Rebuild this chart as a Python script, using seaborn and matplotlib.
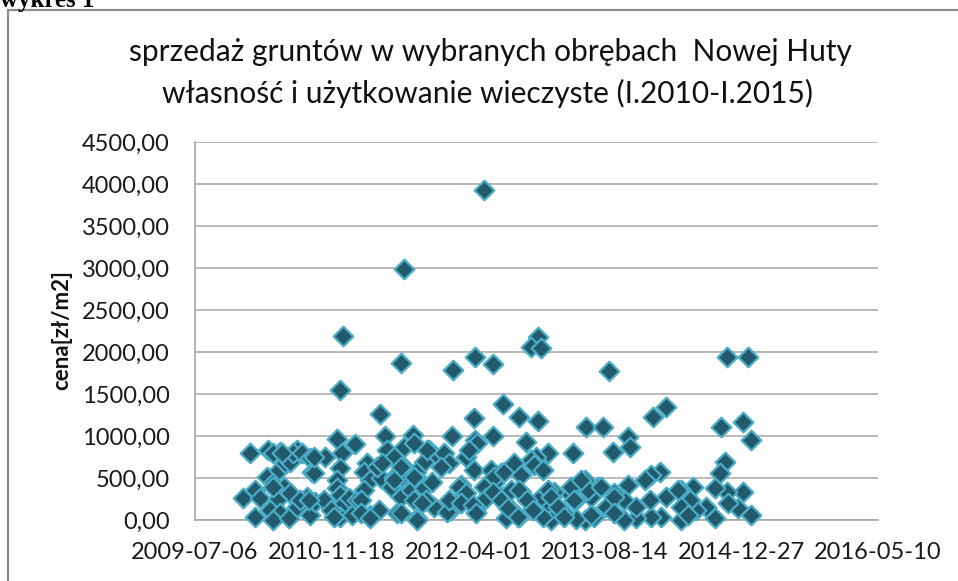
import pandas as pd
import seaborn as sns
import matplotlib.pyplot as plt
import matplotlib.lines as mlines

# dni w formacie Excela (seryjne) i cena [zł/m2]
dni = [
    41057, 40765, 40542, 40532, 40755, 40945, 41024, 41091, 40677, 40697,
    41022, 41126, 40518, 40584, 40799, 40942, 41091, 41254, 41230, 41266,
    41514, 41946, 42025, 41187, 41254, 41432, 41493, 41677, 41725, 41927,
    42007, 42035, 41585, 41530, 41591, 41383, 41291, 41211, 41024, 41034,
    41939, 41921, 42007, 42035, 41903, 41946, 41903, 41872, 41989, 41952,
    41823, 41780, 41835, 41780, 41811, 41707, 41725, 41670, 41701, 41670,
    41646, 41664, 41615, 41585, 41572, 41615, 41572, 41535, 41505, 41475,
    41450, 41426, 41438, 41462, 41426, 41395, 41370, 41352, 41315, 41303,
    41291, 41273, 41254, 41236, 41187, 41138, 41150, 41193, 41187, 41163,
    41120, 41107, 41058, 41028, 41022, 40991, 41003, 40973, 40967, 40936,
    41095, 41083, 41266, 41248, 41230,
    40202, 40177, 40220, 40239, 40220, 40269, 40312, 40263, 40287, 40306,
    40330, 40349, 40373, 40360, 40392, 40422, 40428, 40355, 40324, 40300,
    40275, 40312, 40287, 40343, 40373, 40410, 40422, 40441, 40471, 40477,
    40539, 40532, 40520, 40520, 40532, 40532, 40532, 40496, 40508, 40563,
    40594, 40575, 40630, 40618, 40642, 40618, 40606, 40642, 40673, 40679,
    40667, 40704, 40728, 40728, 40716, 40740, 40765, 40765, 40753, 40783,
    40802, 40857, 40875, 40912, 40930, 40899, 40838, 40808, 40777, 40753,
    40789, 40826, 40838, 40869, 40802, 40814, 40875, 40844, 40924, 40930,
    40967, 40991, 40973, 41016, 41028, 41058, 41065, 41095, 41089, 41120,
    41144, 41181, 41132, 41169, 41193, 41156, 41187, 41217, 41236, 41242,
    41273, 41291, 41303, 41328, 41352, 41377, 41395, 40753,
    41413, 41389, 41487, 41535, 41450, 41768, 41780, 41805, 41535,
    40287, 40318, 40287, 40349, 40434, 40434, 40385, 40416, 40606, 40642,
    40814, 40832, 40728, 40753, 40802, 40685, 40851,
]
cena = [
    3930, 2985, 2190, 1550, 1865, 1780, 1945, 1857, 1265, 1000,
    1215, 1385, 960, 905, 1010, 1005, 1000, 2175, 2055, 2043,
    1778, 1945, 1945, 1230, 1182, 1111, 1103, 1222, 1341, 1103,
    1170, 952, 992, 813, 873, 801, 794, 932, 952, 913,
    694, 556, 337, 60, 20, 337, 377, 158, 139, 198,
    397, 357, 119, 5, 238, 40, 278, 40, 575, 536,
    476, 238, 20, 417, 238, 158, 5, 318, 158, 397,
    278, 476, 357, 40, 5, 10, 318, 80, 337, 5,
    198, 40, 238, 139, 40, 20, 158, 337, 556, 655,
    556, 318, 238, 99, 595, 754, 833, 417, 238, 119,
    437, 595, 615, 754, 714,
    794, 258, 357, 258, 40, 833, 813, 516, 437, 595,
    675, 694, 833, 797, 794, 734, 575, 298, 397, 238,
    119, 80, 5, 20, 158, 278, 60, 218, 238, 754,
    794, 615, 476, 377, 298, 158, 40, 119, 40, 258,
    238, 60, 675, 575, 476, 357, 238, 60, 119, 496,
    635, 833, 754, 516, 397, 80, 873, 635, 278, 397,
    913, 833, 774, 794, 675, 635, 694, 575, 476, 516,
    357, 456, 377, 456, 238, 20, 158, 238, 99, 238,
    397, 318, 198, 179, 80, 397, 258, 516, 337, 238,
    139, 40, 575, 675, 536, 357, 357, 238, 119, 655,
    595, 357, 278, 158, 40, 397, 238, 80,
    476, 238, 397, 278, 60, 357, 158, 60, 80,
    794, 794, 397, 318, 556, 754, 238, 238, 80, 20,
    5, 198, 476, 635, 516, 675, 833,
]

x_ticks = ['2009-07-06', '2010-11-18', '2012-04-01', '2013-08-14', '2014-12-27', '2016-05-10']
y_ticks = [0, 500, 1000, 1500, 2000, 2500, 3000, 3500, 4000, 4500]

df = pd.DataFrame({'data': pd.to_datetime(dni, unit='D', origin='1899-12-30'), 'cena': cena})

sns.set_style('white')
plt.rcParams['font.family'] = ['Lato', 'DejaVu Sans']

fig = plt.figure(figsize=(9.58, 5.81), dpi=100)
ax = fig.add_axes([195 / 958, 1 - 520 / 581, 683 / 958, 378 / 581])

g = sns.scatterplot(data=df, x='data', y='cena', marker='D', s=100, color='#225a6b',
                    edgecolor='#4bacc6', linewidth=1.6, ax=ax, zorder=3)
for c in ax.collections:
    c.set_clip_on(False)

ax.set_xlim(pd.Timestamp(x_ticks[0]), pd.Timestamp(x_ticks[-1]))
ax.set_xticks(pd.to_datetime(x_ticks))
ax.set_xticklabels(x_ticks)
ax.set_ylim(0, 4500)
ax.set_yticks(y_ticks)
ax.set_yticklabels([f'{v:.2f}'.replace('.', ',') for v in y_ticks])
ax.tick_params(axis='both', labelsize=17, colors='#1a1a1a', length=0)
ax.tick_params(axis='y', pad=18)
ax.tick_params(axis='x', pad=16)
ax.yaxis.grid(True, color='#a6a6a6', linewidth=1.1)
for side in ['top', 'right']:
    ax.spines[side].set_visible(False)
for side in ['left', 'bottom']:
    ax.spines[side].set_color('#a0a0a0')
    ax.spines[side].set_linewidth(1.1)

ax.set_xlabel('')
ax.set_ylabel('')
fig.text(62 / 958, 1 - 330 / 581, 'cena[zł/m2]', rotation=90, ha='center', va='center',
         fontsize=16, fontweight='bold', color='#111111')

fig.text(490 / 958, 1 - 52 / 581, 'sprzedaż gruntów w wybranych obrębach  Nowej Huty',
         ha='center', va='center', fontsize=21.5, color='#111111')
fig.text(487 / 958, 1 - 93 / 581, 'własność i użytkowanie wieczyste (I.2010-I.2015)',
         ha='center', va='center', fontsize=21.5, color='#111111')

# ramka wykresu i ucięty podpis nad nią
fig.add_artist(mlines.Line2D([8 / 958, 1], [1 - 10 / 581, 1 - 10 / 581], color='#8c8c8c', lw=1.6))
fig.add_artist(mlines.Line2D([8 / 958, 8 / 958], [0, 1 - 10 / 581], color='#8c8c8c', lw=1.6))
fig.text(0, 1 - 7 / 581, 'wykres 1', ha='left', va='baseline', fontsize=18, fontweight='bold',
         family='Liberation Serif', color='#000000')

fig.savefig('out.png', dpi=100)
